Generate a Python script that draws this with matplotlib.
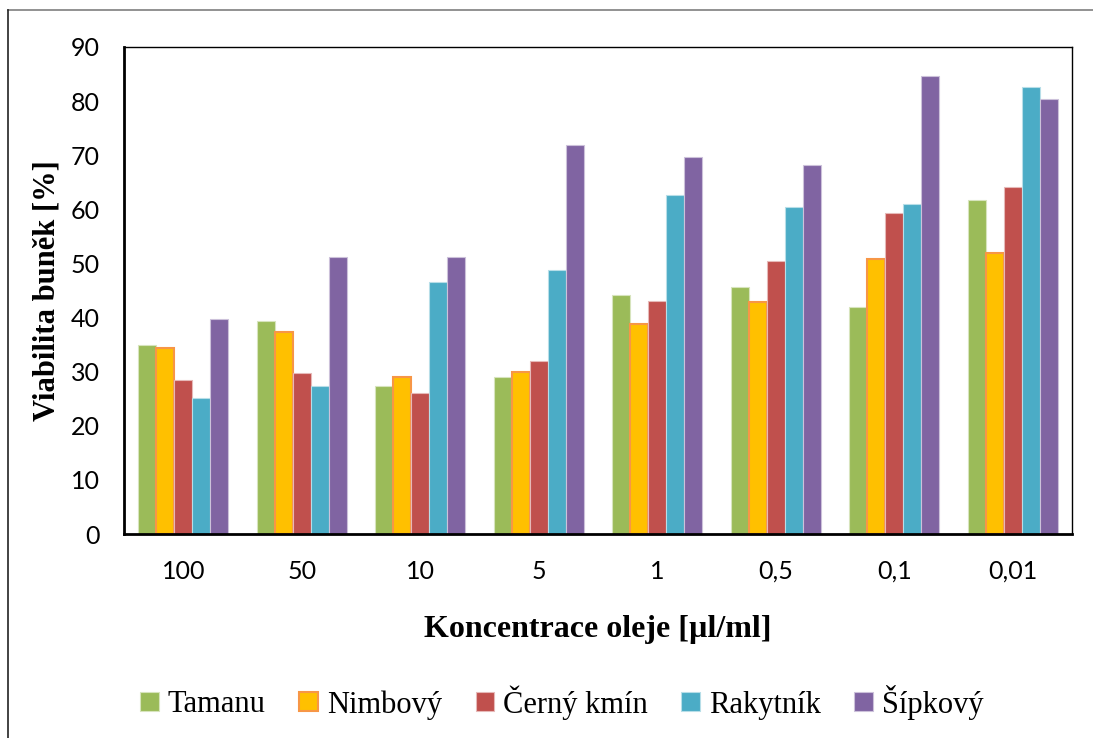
import numpy as np
import matplotlib
matplotlib.use('Agg')
import matplotlib.pyplot as plt
from matplotlib.lines import Line2D

# data
koncentrace = ['100', '50', '10', '5', '1', '0,5', '0,1', '0,01']
tamanu = [35.0, 39.3, 27.3, 29.1, 44.1, 45.7, 42.0, 61.8]
nimbovy = [34.3, 37.3, 29.0, 29.9, 38.9, 42.8, 50.9, 52.0]
cerny_kmin = [28.4, 29.7, 26.0, 31.9, 43.0, 50.4, 59.4, 64.2]
rakytnik = [25.1, 27.3, 46.5, 48.7, 62.7, 60.5, 60.9, 82.6]
sipkovy = [39.7, 51.1, 51.1, 71.9, 69.7, 68.2, 84.7, 80.4]

nazvy = ['Tamanu', 'Nimbový', 'Černý kmín', 'Rakytník', 'Šípkový']
barvy = ['#9BBB59', '#FFC000', '#C0504D', '#4BACC6', '#8064A2']
okraje = ['#D7E4BD', '#F79646', '#E6B9B8', '#B7DEE8', '#CCC1DA']
serie = [tamanu, nimbovy, cerny_kmin, rakytnik, sipkovy]

W, H = 1093, 738
fig = plt.figure(figsize=(W / 100, H / 100), dpi=100)
ax = fig.add_axes([124 / W, (H - 534) / H, (1072 - 124) / W, (534 - 47) / H])

x = np.arange(len(koncentrace))
w = 0.152
for i, (vals, nazev) in enumerate(zip(serie, nazvy)):
    lw = 1.5 if nazev == 'Nimbový' else 0.8
    ax.bar(x + (i - 2) * w, vals, width=w, color=barvy[i], edgecolor=okraje[i],
           linewidth=lw, label=nazev, zorder=2)

ax.set_xlim(-0.5, len(koncentrace) - 0.5)
ax.set_ylim(0, 90)
ax.set_yticks(np.arange(0, 91, 10))
ax.set_xticks(x)
ax.set_xticklabels(koncentrace)
ax.tick_params(axis='both', length=0, labelsize=18)
ax.tick_params(axis='y', pad=17.5)
ax.tick_params(axis='x', pad=18.5)
for lab in ax.get_xticklabels() + ax.get_yticklabels():
    lab.set_family(['Lato', 'DejaVu Sans'])

for s in ['left', 'bottom']:
    ax.spines[s].set_linewidth(2.0)
for s in ['top', 'right']:
    ax.spines[s].set_linewidth(1.0)

ax.set_ylabel('Viabilita buněk [%]', family='Liberation Serif', fontsize=22,
              fontweight='bold')
ax.yaxis.set_label_coords(-(124 - 62) / (1072 - 124), 0.5)
ax.set_xlabel('Koncentrace oleje [µl/ml]', family='Liberation Serif', fontsize=23,
              fontweight='bold')
ax.xaxis.set_label_coords(0.5, -(615 - 534) / (534 - 47))

leg = fig.legend(loc='center', bbox_to_anchor=(562 / W, 1 - 702 / H), ncol=5,
                 frameon=False, prop={'family': 'Liberation Serif', 'size': 22},
                 handlelength=0.6, handleheight=0.6, handletextpad=0.3,
                 columnspacing=1.1)

# outer chart border
fig.add_artist(Line2D([8 / W, 1], [1 - 10 / H, 1 - 10 / H], color='#7F7F7F', lw=1.2))
fig.add_artist(Line2D([8 / W, 8 / W], [0, 1 - 10 / H], color='#222222', lw=1.2))

fig.savefig('out.png', dpi=100)
